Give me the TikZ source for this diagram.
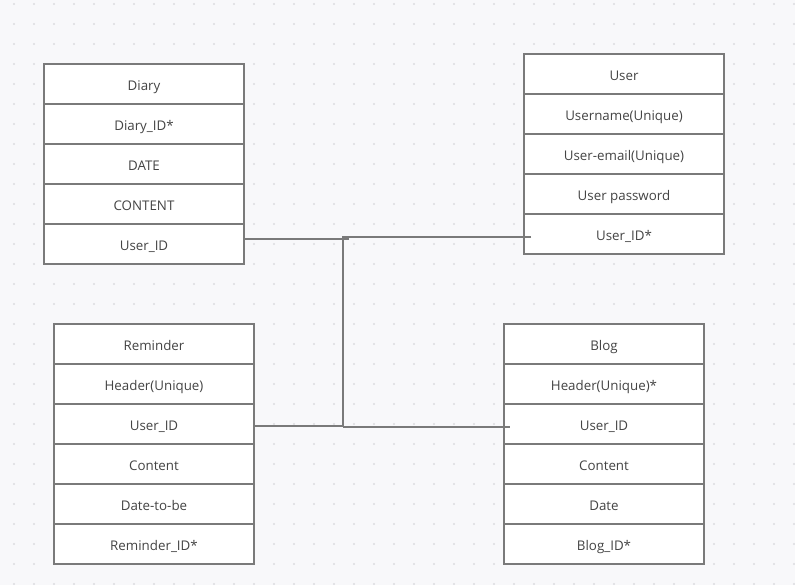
\documentclass[tikz,border=0pt]{standalone}
\usepackage{fontspec}
\setmainfont{Open Sans}
\usepackage{tikz}
\usetikzlibrary{calc}
\definecolor{bgcol}{HTML}{F8F8FA}
\definecolor{dotcol}{HTML}{DCDCE0}
\definecolor{linecol}{HTML}{7A7A7A}
\definecolor{txtcol}{HTML}{444444}

\begin{document}
\begin{tikzpicture}[x=0.75pt,y=-0.75pt,
      cell/.style={rectangle,draw=linecol,fill=white,line width=1.5pt,
        minimum width=150pt,minimum height=30pt,inner sep=0pt,
        text height=9.6pt,text depth=0pt,
        text=txtcol,font=\fontsize{10}{12}\selectfont},
      link/.style={draw=linecol,line width=1.5pt}]
      \fill[bgcol] (0,0) rectangle (795,585);
      \useasboundingbox (0,0) rectangle (795,585);
      \foreach \i in {0,...,39}
        \foreach \j in {0,...,29}
          \fill[dotcol] (14+20*\i,4+20*\j) circle (0.8pt);

      % Diary
      \node[cell] (diary)    at (144, 84) {Diary};
      \node[cell] (diaryid)  at (144,124) {Diary\_ID*};
      \node[cell] (diarydate) at (144,164) {DATE};
      \node[cell] (diarytext) at (144,204) {CONTENT};
      \node[cell] (diaryuid) at (144,244) {User\_ID};

      % User
      \node[cell] (user)     at (624, 74) {User};
      \node[cell] (username) at (624,114) {Username(Unique)};
      \node[cell] (usermail) at (624,154) {User-email(Unique)};
      \node[cell] (userpass) at (624,194) {User password};
      \node[cell] (useruid)  at (624,234) {User\_ID*};

      % Reminder
      \node[cell] (reminder)     at (154,344) {Reminder};
      \node[cell] (reminderhead) at (154,384) {Header(Unique)};
      \node[cell] (reminderuid)  at (154,424) {User\_ID};
      \node[cell] (remindertext) at (154,464) {Content};
      \node[cell] (reminderdate) at (154,504) {Date-to-be};
      \node[cell] (reminderid)   at (154,544) {Reminder\_ID*};

      % Blog
      \node[cell] (blog)     at (604,344) {Blog};
      \node[cell] (bloghead) at (604,384) {Header(Unique)*};
      \node[cell] (bloguid)  at (604,424) {User\_ID};
      \node[cell] (blogtext) at (604,464) {Content};
      \node[cell] (blogdate) at (604,504) {Date};
      \node[cell] (blogid)   at (604,544) {Blog\_ID*};

      \coordinate (hubtop) at (343,237);
      \coordinate (hubbot) at (343,426);

      \draw[link] ([yshift=3.75pt]diaryuid.east) -- ++(104,0);
      \draw[link] ([xshift=6pt,yshift=-2.25pt]useruid.west) -- (hubtop) -- (hubbot);
      \draw[link] ([xshift=-1.5pt]reminderuid.east |- hubbot) -- (hubbot);
      \draw[link] (hubbot) ++(0,1) -- ([xshift=5.25pt,yshift=-2.25pt]bloguid.west);
      \end{tikzpicture}
\end{document}
